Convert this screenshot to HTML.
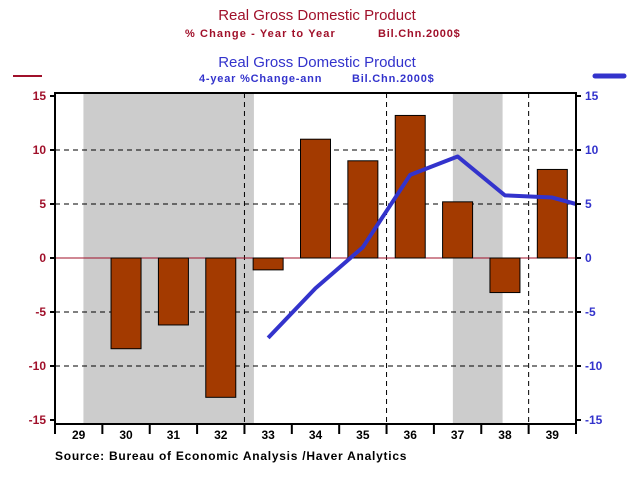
<!DOCTYPE html>
<html><head><meta charset="utf-8"><style>
body{margin:0;background:#fff;width:634px;height:472px;overflow:hidden;font-family:"Liberation Sans",Arial,sans-serif}
</style></head><body>
<svg id="chart" width="634" height="472" xmlns="http://www.w3.org/2000/svg">
<text x="317" y="20" text-anchor="middle" font-size="15" fill="#a0102a">Real Gross Domestic Product</text>
<text x="185" y="37" font-size="11" font-weight="bold" letter-spacing="1.1" fill="#a0102a">% Change - Year to Year</text>
<text x="378" y="37" font-size="11" font-weight="bold" letter-spacing="0.8" fill="#a0102a">Bil.Chn.2000$</text>
<text x="317" y="67" text-anchor="middle" font-size="15" fill="#3333cc">Real Gross Domestic Product</text>
<text x="199" y="82" font-size="11" font-weight="bold" letter-spacing="0.8" fill="#3333cc">4-year %Change-ann</text>
<text x="352" y="82" font-size="11" font-weight="bold" letter-spacing="0.8" fill="#3333cc">Bil.Chn.2000$</text>
<line x1="13" y1="76" x2="42" y2="76" stroke="#a0102a" stroke-width="2"/>
<line x1="595" y1="76" x2="624" y2="76" stroke="#3333cc" stroke-width="5" stroke-linecap="round"/>
<g id="plot"></g>
<text x="55" y="460" font-size="12" font-weight="bold" letter-spacing="0.75" fill="#000">Source:  Bureau of Economic Analysis /Haver Analytics</text>
</svg>
<script>
const categories=["29","30","31","32","33","34","35","36","37","38","39"];
const barValues=[null,-8.4,-6.2,-12.9,-1.1,11.0,9.0,13.2,5.2,-3.2,8.2];
const lineValues=[null,null,null,null,-7.4,-2.8,1.0,7.7,9.4,5.8,5.6,4.4];
const yTicks=[15,10,5,0,-5,-10,-15];
const recessions=[[29.6,33.2],[37.4,38.45]];
const L=55,R=576,T=93,B=424,NS="http://www.w3.org/2000/svg";
const bw=(R-L)/categories.length;
const X=i=>L+bw*(i+0.5);
const Xt=t=>L+bw*(t-29);
const Y=v=>258-v*10.8;
const g=document.getElementById('plot');
function mk(tag,at){const e=document.createElementNS(NS,tag);for(const k in at)e.setAttribute(k,at[k]);g.appendChild(e);return e;}
const cp=mk('clipPath',{id:'clip'});const cr=document.createElementNS(NS,'rect');
cr.setAttribute('x',L);cr.setAttribute('y',T);cr.setAttribute('width',R-L);cr.setAttribute('height',B-T);cp.appendChild(cr);
recessions.forEach(r=>{const e=mk('rect',{x:Xt(r[0]),y:T,width:Xt(r[1])-Xt(r[0]),height:B-T,fill:'#cccccc'});

});
yTicks.forEach(v=>{if(v!==15&&v!==-15&&v!==0){const e=mk('line',{x1:L,x2:R,y1:Y(v),y2:Y(v),stroke:'#000','stroke-dasharray':'5,4'});

}});
[4,7,10].forEach(i=>{const e=mk('line',{x1:L+bw*i,x2:L+bw*i,y1:T,y2:B,stroke:'#000','stroke-dasharray':'5,4'});

});
const z=mk('line',{x1:L,x2:R,y1:Y(0),y2:Y(0),stroke:'#a0102a','stroke-width':1});


barValues.forEach((v,i)=>{if(v===null)return;const e=mk('rect',{x:X(i)-15,y:Math.min(Y(v),Y(0)),width:30,height:Math.abs(Y(v)-Y(0)),fill:'#a33a00',stroke:'#000','stroke-width':1});

});
const pts=[];lineValues.forEach((v,i)=>{if(v!==null)pts.push(X(i)+','+Y(v));});
const pl=mk('polyline',{points:pts.join(' '),fill:'none',stroke:'#3333cc','stroke-width':4,'stroke-linejoin':'round','clip-path':'url(#clip)'});


const fr=mk('rect',{x:L,y:T,width:R-L,height:B-T,fill:'none',stroke:'#000','stroke-width':2});


yTicks.forEach(v=>{
 mk('line',{x1:L-5,x2:L,y1:Y(v),y2:Y(v),stroke:'#000','stroke-width':2});
 mk('line',{x1:R,x2:R+5,y1:Y(v),y2:Y(v),stroke:'#000','stroke-width':2});
 const a=mk('text',{x:L-9,y:Y(v)+4,'text-anchor':'end','font-size':12,'font-weight':'bold',fill:'#a0102a'});a.textContent=v;
 
 
 const b=mk('text',{x:R+9,y:Y(v)+4,'font-size':12,'font-weight':'bold',fill:'#3333cc'});b.textContent=v;
 
 
});
for(let i=0;i<=categories.length;i++)mk('line',{x1:L+bw*i,x2:L+bw*i,y1:B,y2:B+10,stroke:'#000','stroke-width':2});
categories.forEach((c,i)=>{const t=mk('text',{x:X(i),y:B+15,'text-anchor':'middle','font-size':12,'font-weight':'bold',fill:'#000'});t.textContent=c;

});
</script>
</body></html>
